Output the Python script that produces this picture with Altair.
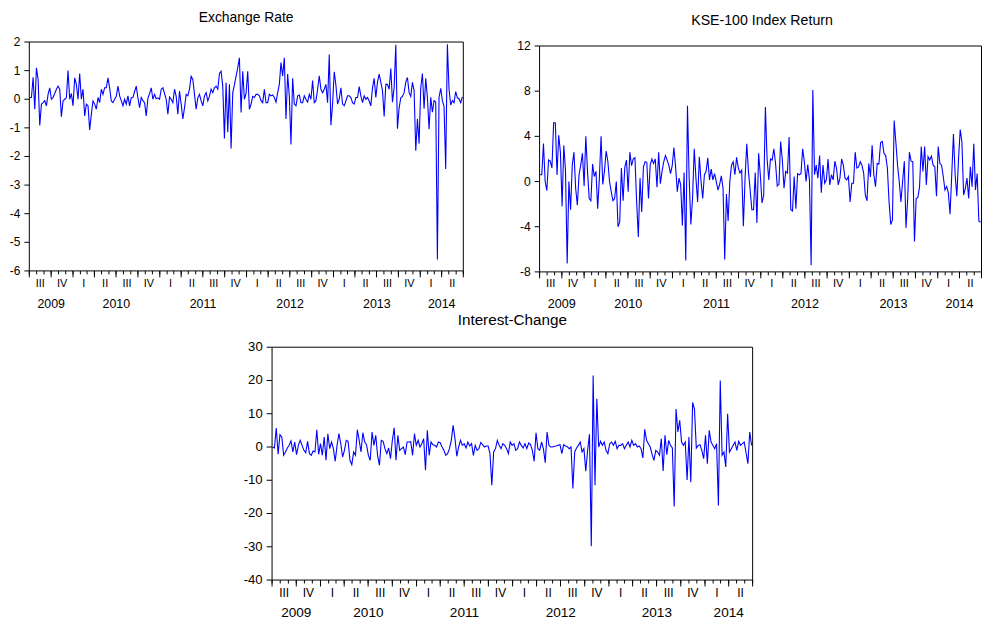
import altair as alt
import pandas as pd

FONT = "Liberation Sans"
BLUE = "#0000FF"
W, H = 983, 615

# Weekly observations, first week ending 2009-07-03
EXCHANGE_RATE = [
    0.06, 0.06, 0.77, -0.35, 1.10, 0.69, -0.92, -0.17, -0.12, -0.05,
    -0.23, 0.17, 0.40, 0.00, 0.06, 0.20, 0.35, 0.46, 0.35, -0.61,
    -0.06, 0.00, 0.05, 1.00, 0.00, 0.20, -0.23, 0.75, 0.52, 0.00,
    0.90, 0.00, 0.35, -0.58, -0.17, -0.23, -1.07, -0.52, -0.06, -0.17,
    -0.35, 0.06, -0.12, 0.35, 0.17, 0.40, 0.40, 0.75, 0.40, -0.06,
    -0.12, 0.00, 0.10, 0.46, 0.12, -0.05, -0.23, 0.00, -0.17, 0.12,
    -0.23, 0.05, 0.06, 0.27, 0.46, 0.05, -0.29, 0.06, -0.05, -0.12,
    -0.58, 0.03, 0.20, 0.40, 0.00, 0.17, 0.02, 0.05, 0.00, 0.35,
    0.40, 0.20, 0.00, -0.52, 0.08, 0.00, -0.12, 0.35, 0.10, -0.52,
    0.29, -0.17, -0.69, -0.30, 0.17, 0.12, 0.35, 0.80, 0.69, 0.17,
    -0.35, 0.05, 0.17, -0.06, -0.23, 0.12, 0.23, -0.06, 0.10, 0.35,
    0.23, 0.40, 0.46, 0.35, 0.90, 0.98, 0.45, -1.37, 0.58, -1.15,
    0.52, -1.72, 0.23, 0.50, 0.81, 1.10, 1.45, -0.46, 0.98, 0.00,
    0.20, 0.98, -0.35, -0.17, 0.10, 0.06, 0.17, 0.17, 0.12, -0.05,
    -0.12, 0.35, -0.12, -0.12, 0.17, 0.12, 0.15, 0.06, -0.10, 0.23,
    0.52, 1.28, 0.81, 1.45, -0.69, 0.88, 0.10, -1.58, 0.73, -0.17,
    -0.23, 0.12, 0.15, -0.12, -0.12, 0.12, 0.00, -0.10, 0.17, 0.00,
    0.65, -0.12, -0.05, 0.35, 0.82, 0.35, 0.23, 0.35, 0.52, -0.12,
    1.56, -0.91, -0.17, 0.96, 0.50, -0.17, 0.00, 0.40, -0.17, -0.23,
    -0.06, 0.12, 0.12, 0.06, -0.12, -0.17, 0.06, 0.06, 0.44, 0.12,
    -0.12, 0.12, 0.00, 0.06, -0.06, -0.23, 0.40, 0.73, 0.06, 0.60,
    0.88, 0.60, 0.30, -0.60, 0.52, 0.52, 0.35, 1.07, -0.10, 0.40,
    1.90, -1.03, -0.30, 0.05, 0.10, 0.23, 0.60, 0.76, 0.23, 0.10,
    0.59, 0.30, -1.80, -0.68, -1.55, 0.40, 0.90, -0.33, 0.73, 0.06,
    -1.05, 0.07, -0.45, -0.05, -0.10, -5.60, 0.07, 0.38, -0.05, -0.25,
    -2.44, 1.92, 0.35, -0.20, -0.05, -0.12, 0.27, 0.05, 0.02, -0.12,
    0.08,
]

KSE100_RETURN = [
    0.6, 0.6, 3.36, 0.0, -0.8, 1.9, 1.8, 1.2, 5.2, 5.2,
    0.58, 4.1, 2.6, -2.2, 3.2, 1.0, -7.25, 0.0, -2.5, 1.45,
    2.6, -0.6, -2.1, 0.6, 1.45, 2.5, -0.4, 4.0, 0.9, -1.5,
    -1.7, 1.55, 0.45, 0.9, -2.4, 0.3, 4.0, -0.25, 0.9, 2.7,
    1.8, 0.0, -0.9, -1.7, -1.5, 0.0, -4.0, -3.6, 1.2, -1.7,
    1.25, 1.9, -0.9, 2.6, 1.4, 2.0, 2.1, -1.8, -4.9, 0.3,
    -2.7, 1.3, 1.75, 1.7, -1.5, 1.45, 2.0, 1.6, 2.0, -0.5,
    2.6, -0.2, 0.9, 1.75, 2.3, 1.9, 1.45, 0.7, 1.4, 3.0,
    1.3, -0.9, 0.3, -0.3, -3.9, 0.8, -7.0, 6.7, 0.3, -3.8,
    -1.5, 2.9, 0.3, -1.8, 2.2, 0.05, -1.5, 0.6, 0.9, 2.1,
    0.15, 1.1, 0.15, 0.7, 0.0, -0.75, -0.25, 0.5, -0.6, -6.9,
    -1.1, -3.5, 0.0, 1.45, 1.75, 0.6, 2.15, 1.2, 0.75, 1.0,
    -3.96, 0.3, 3.35, 0.9, -0.75, -2.5, -2.5, 0.8, -3.66, 2.5,
    0.6, -1.9, -1.2, 6.6, 2.0, 0.15, 2.0, 1.9, 2.9, 1.6,
    -0.4, -0.25, 3.55, 1.9, -0.6, 0.9, 0.75, 3.95, -2.5, -2.6,
    0.45, -2.4, 0.7, 0.6, 0.7, 2.9, 1.75, 0.0, 1.5, 0.15,
    -7.4, 8.1, 0.6, 1.45, 0.3, 2.3, -1.0, 1.45, -0.15, 0.15,
    2.0, -0.3, 0.6, 0.15, 1.8, 1.15, -0.3, 0.3, 2.0, 1.45,
    0.3, 0.15, 0.45, -1.8, -0.15, -0.15, 2.6, 1.2, 1.3, 1.75,
    1.45, 0.75, -1.2, -1.7, 1.6, 0.4, 3.2, 0.6, -0.45, 1.6,
    1.55, 3.45, 3.55, 2.5, 2.3, 1.2, -1.8, -3.8, -3.4, 5.4,
    3.5, 1.45, 0.0, -1.8, 0.0, 1.8, -4.1, -1.5, 2.6, 1.8,
    1.75, -5.3, -1.5, -1.4, -0.45, 3.1, 0.9, 3.1, -0.3, 2.2,
    1.9, 2.25, 1.45, 1.3, -1.3, 3.1, 1.6, 1.45, 0.45, -0.75,
    -0.45, -1.0, -2.9, 0.6, 4.2, 0.6, -1.3, 2.0, 4.6, 3.5,
    -1.2, -0.6, 0.3, -1.5, 1.3, -0.45, 3.35, -0.75, 0.7, -3.5,
    -3.6,
]

INTEREST_CHANGE = [
    0.0, -0.3, 5.7, -2.2, 3.7, 3.0, -2.5, -1.5, -0.3, 0.5,
    1.8, -1.5, 1.5, -2.3, 0.5, 2.0, 0.5, -1.0, -1.7, 1.7,
    -2.0, -2.5, -1.2, -1.5, 5.2, -2.2, 1.0, -2.5, 3.0, -4.0,
    4.0, -0.5, 1.5, -0.5, -4.3, 0.5, 4.0, 1.0, -3.0, -1.0,
    2.0, 1.7, -4.0, -5.3, -1.5, -2.5, 5.2, 2.0, -1.5, 4.3,
    1.5, 0.7, -2.5, -4.0, 4.5, 0.5, 3.5, -2.5, -5.5, 2.0,
    1.7, -0.5, -2.0, -0.3, -3.5, 2.0, 5.8, -4.0, 3.5, -1.0,
    -0.5, 0.0, -2.3, 1.5, 1.5, 1.6, -2.5, 4.0, 0.5, 2.0,
    0.0, 1.0, 2.5, -7.0, 5.0, -2.5, 1.5, 0.7, 0.5, 0.0,
    1.5, 1.3, 0.0, -1.0, -2.5, -2.0, -0.5, 2.0, 6.5, 2.5,
    -2.8, 0.0, 2.0, 0.5, 1.0, -0.3, 1.5, 0.3, 1.0, -2.5,
    0.5, -1.0, -0.5, 1.3, 0.7, 0.0, 0.3, 0.3, -2.0, -11.5,
    -1.5, -0.5, 2.0, 0.5, -0.5, 1.0, 0.5, -0.5, -2.0, 1.5,
    0.5, 1.0, -1.0, -0.5, 1.5, 0.5, -0.3, 1.0, -0.5, 1.2,
    0.7, -1.0, -4.3, 4.3, -0.5, -1.0, 1.5, -0.5, -4.7, 4.5,
    0.5, 0.0, 0.0, 0.2, 0.3, 0.5, 0.7, -2.0, 0.7, 0.3,
    0.1, -0.5, 0.0, -12.5, -1.5, -0.3, 0.5, 1.5, -1.5, -0.5,
    -7.3, -1.0, 3.8, -29.8, 21.5, -11.5, 14.5, 0.0, 1.7, 0.5,
    1.5, -1.0, -2.0, 1.0, 1.5, 0.5, 1.7, -0.5, 0.5, 0.5,
    1.0, -0.5, 0.5, 1.5, 0.0, 2.0, 0.5, 1.0, 0.0, 0.3,
    -0.5, -3.3, 5.3, 2.0, 1.0, 0.0, -2.2, -4.0, -1.0, -1.5,
    -2.5, 2.5, -7.2, 3.5, -2.3, 2.0, 0.5, -0.3, -17.9, 11.4,
    4.5, 8.0, 1.5, 0.5, 1.5, -9.9, 3.0, -10.6, 13.4, 11.4,
    -0.3, 0.5, 0.7, -1.0, -3.5, 3.5, -5.0, 5.0, 1.5, 0.5,
    -0.5, 1.0, -17.6, 20.0, -2.5, -1.5, -6.0, 10.0, -1.5, -0.5,
    0.5, 1.5, -1.0, 1.7, 0.5, 1.0, 1.5, -1.7, -5.0, 4.5,
    0.5,
]

QUARTER_LABELS = ["III", "IV", "I", "II", "III", "IV", "I", "II", "III", "IV",
                  "I", "II", "III", "IV", "I", "II", "III", "IV", "I", "II"]
YEAR_LABELS = ["2009", "2010", "2011", "2012", "2013", "2014"]

FIRST_WEEK = "2009-07-03"
DOMAIN_START, DOMAIN_END = "2009-07-01", "2014-07-01"

assert len(EXCHANGE_RATE) == len(KSE100_RETURN) == len(INTEREST_CHANGE) == 261

week_dates = pd.date_range(FIRST_WEEK, periods=len(EXCHANGE_RATE), freq="7D").strftime("%Y-%m-%d").tolist()

d0, d1 = pd.Timestamp(DOMAIN_START), pd.Timestamp(DOMAIN_END)
periods = pd.period_range("2009Q3", "2014Q2", freq="Q")
quarter_mid = [(p.start_time + ((p + 1).start_time - p.start_time) / 2).strftime("%Y-%m-%d") for p in periods]
year_mid = []
for y in YEAR_LABELS:
    a = max(pd.Timestamp(f"{y}-01-01"), d0)
    b = min(pd.Timestamp(f"{int(y) + 1}-01-01"), d1)
    year_mid.append((a + (b - a) / 2).strftime("%Y-%m-%d"))

month_starts = pd.date_range(d0, d1, freq="MS")
month_ticks = [t.strftime("%Y-%m-%d") for t in month_starts]
quarter_ticks = [t.strftime("%Y-%m-%d") for t in month_starts if t.month in (1, 4, 7, 10)]

X_DOMAIN = [alt.DateTime(year=d0.year, month=d0.month, date=d0.day, utc=True),
            alt.DateTime(year=d1.year, month=d1.month, date=d1.day, utc=True)]


def panel(values, title, ydom, yticks, box, sizes, title_pos, q_base, y_base):
    x0, x1, yb, yt = box
    tfs, lfs, qfs, yfs, ytick = sizes
    xs = alt.Scale(type="utc", domain=X_DOMAIN, range=[x0, x1])
    ys = alt.Scale(domain=ydom, range=[yb, yt], nice=False, zero=False)

    df = pd.DataFrame({"date": week_dates, "value": values})
    line = alt.Chart(df).mark_line(color=BLUE, strokeWidth=1.1).encode(
        x=alt.X("date:T", scale=xs, axis=None),
        y=alt.Y("value:Q", scale=ys, axis=None),
    )
    frame_df = pd.DataFrame({"start": [DOMAIN_START], "end": [DOMAIN_END],
                             "lo": [ydom[0]], "hi": [ydom[1]]})
    frame = alt.Chart(frame_df).mark_rect(fill="transparent", stroke="black", strokeWidth=1).encode(
        x=alt.X("start:T", scale=xs, axis=None), x2="end:T",
        y=alt.Y("lo:Q", scale=ys, axis=None), y2="hi:Q",
    )
    # y-axis ticks and labels
    ydf = pd.DataFrame({"v": yticks, "label": [str(v) for v in yticks]})
    yrule = alt.Chart(ydf).mark_rule(color="black", strokeWidth=1).encode(
        y=alt.Y("v:Q", scale=ys, axis=None), x=alt.value(x0 - ytick), x2=alt.value(x0))
    ylab = alt.Chart(ydf).mark_text(font=FONT, fontSize=lfs, color="black",
                                    align="right", baseline="middle").encode(
        y=alt.Y("v:Q", scale=ys, axis=None), x=alt.value(x0 - ytick - 4), text="label:N")
    # x-axis ticks: monthly (short) and quarterly (long)
    mdf = pd.DataFrame({"d": month_ticks})
    mrule = alt.Chart(mdf).mark_rule(color="black", strokeWidth=1).encode(
        x=alt.X("d:T", scale=xs, axis=None), y=alt.value(yb), y2=alt.value(yb + 3.5))
    qtdf = pd.DataFrame({"d": quarter_ticks})
    qrule = alt.Chart(qtdf).mark_rule(color="black", strokeWidth=1).encode(
        x=alt.X("d:T", scale=xs, axis=None), y=alt.value(yb), y2=alt.value(yb + 6.5))
    qdf = pd.DataFrame({"mid": quarter_mid, "label": QUARTER_LABELS})
    qtext = alt.Chart(qdf).mark_text(font=FONT, fontSize=qfs, color="black",
                                     baseline="alphabetic", align="center").encode(
        x=alt.X("mid:T", scale=xs, axis=None), y=alt.value(q_base), text="label:N")
    yrdf = pd.DataFrame({"mid": year_mid, "label": YEAR_LABELS})
    ytext = alt.Chart(yrdf).mark_text(font=FONT, fontSize=yfs, color="black",
                                      baseline="alphabetic", align="center").encode(
        x=alt.X("mid:T", scale=xs, axis=None), y=alt.value(y_base), text="label:N")
    tdf = pd.DataFrame({"t": [title]})
    ttext = alt.Chart(tdf).mark_text(font=FONT, fontSize=tfs, color="black",
                                     baseline="alphabetic", align="center").encode(
        x=alt.value(title_pos[0]), y=alt.value(title_pos[1]), text="t:N")
    return alt.layer(line, frame, yrule, ylab, mrule, qrule, qtext, ytext, ttext)


p1 = panel(EXCHANGE_RATE, "Exchange Rate", [-6, 2], list(range(-6, 3)),
           (21.5, 459.5, 262.5, 31.5), (14, 12, 11, 12.5, 5), (240.3, 11.0), 278.7, 300.3)
p2 = panel(KSE100_RETURN, "KSE-100 Index Return", [-8, 12], [-8, -4, 0, 4, 8, 12],
           (536.5, 982.5, 263.5, 35.5), (14.3, 12.2, 11.2, 12.7, 5), (761.0, 14.5), 278.7, 300.3)
p3 = panel(INTEREST_CHANGE, "Interest-Change", [-40, 30], list(range(-40, 31, 10)),
           (266.5, 751.5, 574.5, 339.5), (15.4, 13.2, 12.1, 13.7, 5.5), (509.0, 316.7), 591.3, 612.0)

chart = (
    alt.layer(p1, p2, p3)
    .resolve_scale(x="independent", y="independent")
    .properties(width=W, height=H, padding=0, background="white")
    .configure_view(stroke="transparent")
)

chart.save("out.html", embed_options={"renderer": "svg", "actions": False})
